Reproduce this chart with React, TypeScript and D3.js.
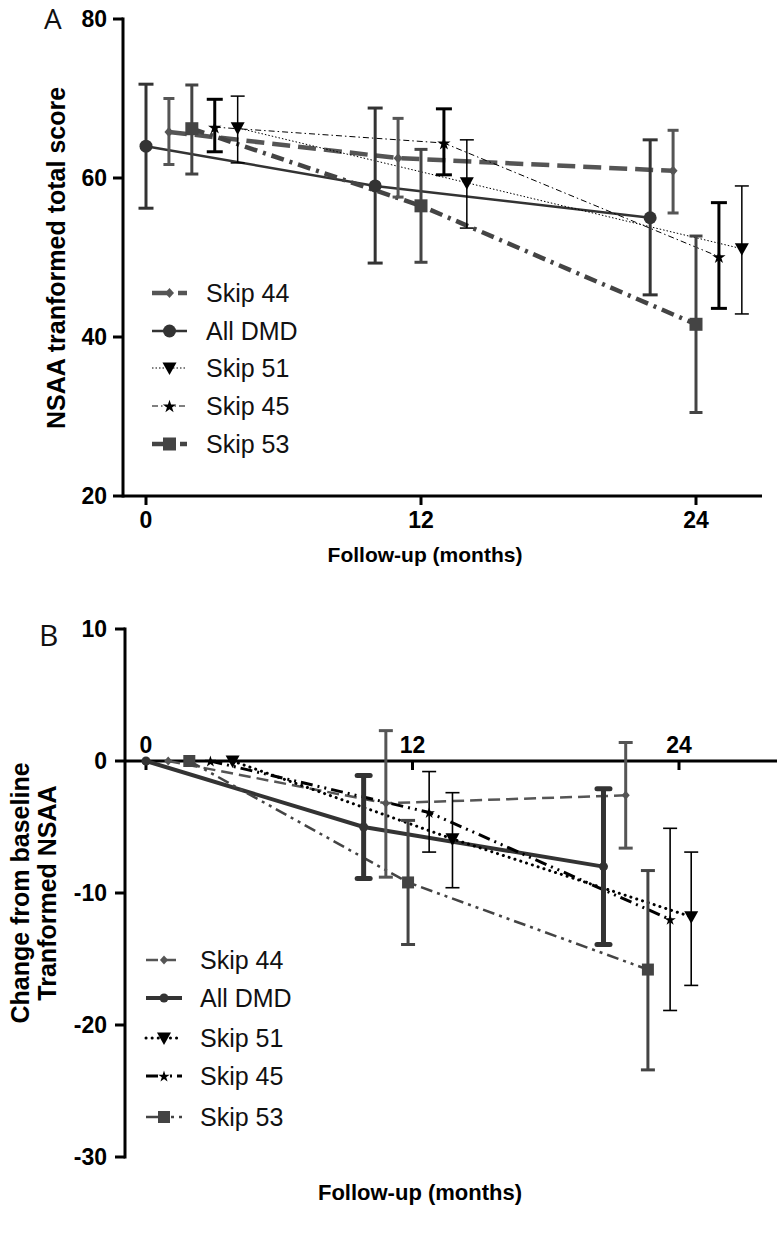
import React from "react";
import * as d3 from "d3";

// ---------- DATA ----------
const seriesNames = ["Skip 44", "All DMD", "Skip 51", "Skip 45", "Skip 53"];

// Panel A: NSAA transformed total score (months, offset per group)
const aX_skip44 = [1, 11, 23];
const aY_skip44 = [65.8, 62.5, 60.9];
const aLo_skip44 = [61.7, 57.6, 55.6];
const aHi_skip44 = [70.0, 67.5, 66.0];

const aX_all = [0, 10, 22];
const aY_all = [64.0, 59.0, 55.0];
const aLo_all = [56.2, 49.3, 45.3];
const aHi_all = [71.8, 68.8, 64.8];

const aX_skip51 = [4, 14, 26];
const aY_skip51 = [66.3, 59.4, 51.1];
const aLo_skip51 = [61.9, 53.7, 42.9];
const aHi_skip51 = [70.3, 64.8, 59.0];

const aX_skip45 = [3, 13, 25];
const aY_skip45 = [66.4, 64.4, 50.1];
const aLo_skip45 = [63.3, 60.4, 43.6];
const aHi_skip45 = [69.9, 68.7, 56.9];

const aX_skip53 = [2, 12, 24];
const aY_skip53 = [66.2, 56.5, 41.6];
const aLo_skip53 = [60.5, 49.4, 30.5];
const aHi_skip53 = [71.7, 63.6, 52.7];

// Panel B: change from baseline
const bX_skip44 = [1, 10.8, 21.6];
const bY_skip44 = [0, -3.2, -2.6];
const bLo_skip44 = [null, -8.8, -6.6];
const bHi_skip44 = [null, 2.3, 1.4];

const bX_all = [0, 9.8, 20.6];
const bY_all = [0, -5.0, -8.0];
const bLo_all = [null, -8.9, -13.9];
const bHi_all = [null, -1.1, -2.1];

const bX_skip51 = [3.9, 13.8, 24.55];
const bY_skip51 = [0, -5.9, -11.8];
const bLo_skip51 = [null, -9.6, -17.0];
const bHi_skip51 = [null, -2.4, -6.9];

const bX_skip45 = [2.9, 12.75, 23.6];
const bY_skip45 = [0, -3.9, -12.0];
const bLo_skip45 = [null, -6.9, -18.9];
const bHi_skip45 = [null, -0.8, -5.1];

const bX_skip53 = [1.95, 11.8, 22.6];
const bY_skip53 = [0, -9.2, -15.8];
const bLo_skip53 = [null, -13.9, -23.4];
const bHi_skip53 = [null, -4.5, -8.3];

const aYTicks = [20, 40, 60, 80];
const bYTicks = [-30, -20, -10, 0, 10];
const xTicks = [0, 12, 24];

// ---------- STYLES ----------
type Style = {
  color: string;
  lineW: number;
  dash: string;
  cap: string;
  errW: number;
  errCapW: number;
  errCapRound?: boolean;
  marker: string;
  msize: number;
};

const stylesA: Record<string, Style> = {
  "Skip 44": { color: "#555", lineW: 4.5, dash: "18,8", cap: "butt", errW: 3, errCapW: 11, marker: "diamond", msize: 5 },
  "All DMD": { color: "#333", lineW: 2.5, dash: "", cap: "butt", errW: 3, errCapW: 15, marker: "circle", msize: 6.5 },
  "Skip 51": { color: "#000", lineW: 1, dash: "1.5,2", cap: "butt", errW: 1.5, errCapW: 14, marker: "triangle", msize: 7 },
  "Skip 45": { color: "#000", lineW: 1, dash: "6,3,1.5,3", cap: "butt", errW: 3, errCapW: 16, marker: "star", msize: 7 },
  "Skip 53": { color: "#444", lineW: 4.5, dash: "13,6,3,6", cap: "butt", errW: 3, errCapW: 13, marker: "square", msize: 6.5 },
};

const stylesB: Record<string, Style> = {
  "Skip 44": { color: "#555", lineW: 2.5, dash: "12,6", cap: "butt", errW: 3, errCapW: 14, marker: "diamond", msize: 4.5 },
  "All DMD": { color: "#333", lineW: 4, dash: "", cap: "butt", errW: 5, errCapW: 13, errCapRound: true, marker: "circle", msize: 4.5 },
  "Skip 51": { color: "#000", lineW: 3, dash: "0.1,6", cap: "round", errW: 1.6, errCapW: 14, marker: "triangle", msize: 7 },
  "Skip 45": { color: "#000", lineW: 3, dash: "12,5,2,5,2,5", cap: "butt", errW: 1.6, errCapW: 14, marker: "star", msize: 6 },
  "Skip 53": { color: "#444", lineW: 2.5, dash: "12,5,3,5,3,5", cap: "butt", errW: 3, errCapW: 14, marker: "square", msize: 6 },
};

type Series = { name: string; x: number[]; y: number[]; lo: (number | null)[]; hi: (number | null)[] };

const seriesA: Series[] = [
  { name: "Skip 44", x: aX_skip44, y: aY_skip44, lo: aLo_skip44, hi: aHi_skip44 },
  { name: "All DMD", x: aX_all, y: aY_all, lo: aLo_all, hi: aHi_all },
  { name: "Skip 51", x: aX_skip51, y: aY_skip51, lo: aLo_skip51, hi: aHi_skip51 },
  { name: "Skip 45", x: aX_skip45, y: aY_skip45, lo: aLo_skip45, hi: aHi_skip45 },
  { name: "Skip 53", x: aX_skip53, y: aY_skip53, lo: aLo_skip53, hi: aHi_skip53 },
];

const seriesB: Series[] = [
  { name: "Skip 44", x: bX_skip44, y: bY_skip44, lo: bLo_skip44, hi: bHi_skip44 },
  { name: "All DMD", x: bX_all, y: bY_all, lo: bLo_all, hi: bHi_all },
  { name: "Skip 51", x: bX_skip51, y: bY_skip51, lo: bLo_skip51, hi: bHi_skip51 },
  { name: "Skip 45", x: bX_skip45, y: bY_skip45, lo: bLo_skip45, hi: bHi_skip45 },
  { name: "Skip 53", x: bX_skip53, y: bY_skip53, lo: bLo_skip53, hi: bHi_skip53 },
];

const FONT = "'Liberation Sans', Arial, Helvetica, sans-serif";

function Marker({ kind, cx, cy, s, color }: { kind: string; cx: number; cy: number; s: number; color: string }) {
  if (kind === "circle") return <circle cx={cx} cy={cy} r={s} fill={color} />;
  if (kind === "square") return <rect x={cx - s} y={cy - s} width={2 * s} height={2 * s} fill={color} />;
  if (kind === "diamond") {
    const p = `M${cx},${cy - s}L${cx + s * 0.9},${cy}L${cx},${cy + s}L${cx - s * 0.9},${cy}Z`;
    return <path d={p} fill={color} />;
  }
  if (kind === "triangle") {
    const p = `M${cx - s},${cy - s * 0.8}L${cx + s},${cy - s * 0.8}L${cx},${cy + s}Z`;
    return <path d={p} fill={color} />;
  }
  if (kind === "star") {
    const size = (s * s) / 0.8908130915292852;
    const d = d3.symbol().type(d3.symbolStar).size(size)() || "";
    return <path d={d} transform={`translate(${cx},${cy + s * 0.1})`} fill={color} />;
  }
  return null;
}

function Panel({
  series,
  styles,
  x,
  y,
}: {
  series: Series[];
  styles: Record<string, Style>;
  x: d3.ScaleLinear<number, number>;
  y: d3.ScaleLinear<number, number>;
}) {
  const line = d3
    .line<[number, number]>()
    .x((d) => x(d[0]))
    .y((d) => y(d[1]));
  return (
    <g>
      {series.map((s) => {
        const st = styles[s.name];
        const pts = s.x.map((xv, i) => [xv, s.y[i]] as [number, number]);
        return (
          <path
            key={"l" + s.name}
            d={line(pts) || ""}
            fill="none"
            stroke={st.color}
            strokeWidth={st.lineW}
            strokeDasharray={st.dash || undefined}
            strokeLinecap={st.cap as any}
          />
        );
      })}
      {series.map((s) => {
        const st = styles[s.name];
        return (
          <g key={"e" + s.name}>
            {s.x.map((xv, i) => {
              const lo = s.lo[i];
              const hi = s.hi[i];
              if (lo == null || hi == null) return null;
              const cx = x(xv);
              const hw = st.errCapW / 2;
              return (
                <g key={i} stroke={st.color} strokeWidth={st.errW}>
                  <line x1={cx} x2={cx} y1={y(hi)} y2={y(lo)} />
                  <line
                    x1={cx - hw}
                    x2={cx + hw}
                    y1={y(hi)}
                    y2={y(hi)}
                    strokeLinecap={st.errCapRound ? "round" : "butt"}
                  />
                  <line
                    x1={cx - hw}
                    x2={cx + hw}
                    y1={y(lo)}
                    y2={y(lo)}
                    strokeLinecap={st.errCapRound ? "round" : "butt"}
                  />
                </g>
              );
            })}
          </g>
        );
      })}
      {series.map((s) => {
        const st = styles[s.name];
        return (
          <g key={"m" + s.name}>
            {s.x.map((xv, i) => (
              <Marker key={i} kind={st.marker} cx={x(xv)} cy={y(s.y[i])} s={st.msize} color={st.color} />
            ))}
          </g>
        );
      })}
    </g>
  );
}

function Legend({
  styles,
  x1,
  x2,
  tx,
  rows,
}: {
  styles: Record<string, Style>;
  x1: number;
  x2: number;
  tx: number;
  rows: number[];
}) {
  return (
    <g>
      {seriesNames.map((n, i) => {
        const st = styles[n];
        const yy = rows[i];
        return (
          <g key={n}>
            <line
              x1={x1}
              x2={x2}
              y1={yy}
              y2={yy}
              stroke={st.color}
              strokeWidth={st.lineW}
              strokeDasharray={st.dash || undefined}
              strokeLinecap={st.cap as any}
            />
            <Marker kind={st.marker} cx={(x1 + x2) / 2} cy={yy} s={st.msize} color={st.color} />
            <text x={tx} y={yy} dy="0.36em" fontSize={25} fontFamily={FONT} fill="#111">
              {n}
            </text>
          </g>
        );
      })}
    </g>
  );
}

export default function App() {
  // Panel A scales
  const xA = d3.scaleLinear().domain([0, 24]).range([146, 696]);
  const yA = d3.scaleLinear().domain([20, 80]).range([496, 19]);
  // Panel B scales
  const xB = d3.scaleLinear().domain([0, 24]).range([146, 679]);
  const yB = d3.scaleLinear().domain([-30, 10]).range([1157, 629]);

  const axisA = { left: 123, right: 762 };
  const axisB = { left: 125, right: 777 };

  return (
    <svg
      width={780}
      height={1235}
      style={{ position: "absolute", left: 0, top: 0, background: "#fff" }}
      fontFamily={FONT}
    >
      <rect width={780} height={1235} fill="#fff" />
      {/* ---------- Panel A ---------- */}
      <text x={44} y={29} fontSize={28} fontFamily="'Open Sans', 'Liberation Sans', sans-serif" fill="#111">
        A
      </text>
      <g stroke="#000" strokeWidth={3}>
        <line x1={axisA.left} x2={axisA.left} y1={yA(80) - 1.5} y2={yA(20) + 1.5} />
        <line x1={axisA.left} x2={axisA.right} y1={yA(20)} y2={yA(20)} />
        {aYTicks.map((t) => (
          <line key={t} x1={axisA.left - 10} x2={axisA.left} y1={yA(t)} y2={yA(t)} />
        ))}
        {xTicks.map((t) => (
          <line key={t} x1={xA(t)} x2={xA(t)} y1={yA(20)} y2={yA(20) + 9} />
        ))}
      </g>
      {aYTicks.map((t) => (
        <text key={t} x={107} y={yA(t)} dy="0.36em" textAnchor="end" fontSize={23} fontWeight="bold">
          {t}
        </text>
      ))}
      {xTicks.map((t) => (
        <text key={t} x={xA(t)} y={520} dy="0.36em" textAnchor="middle" fontSize={23} fontWeight="bold">
          {t}
        </text>
      ))}
      <text x={425} y={554} dy="0.36em" textAnchor="middle" fontSize={21} fontWeight="bold">
        Follow-up (months)
      </text>
      <text
        transform={`translate(56,258) rotate(-90)`}
        textAnchor="middle"
        dy="0.36em"
        fontSize={25}
        fontWeight="bold"
      >
        NSAA tranformed total score
      </text>
      <Panel series={seriesA} styles={stylesA} x={xA} y={yA} />
      <Legend styles={stylesA} x1={152} x2={187} tx={206} rows={[293, 331, 368, 406, 444]} />

      {/* ---------- Panel B ---------- */}
      <text x={39} y={646} fontSize={30} fontFamily="'Open Sans', 'Liberation Sans', sans-serif" fill="#111">
        B
      </text>
      <g stroke="#000" strokeWidth={3}>
        <line x1={axisB.left} x2={axisB.left} y1={yB(10) - 1.5} y2={yB(-30) + 1.5} />
        <line x1={axisB.left} x2={axisB.right} y1={yB(0)} y2={yB(0)} />
        {bYTicks.map((t) => (
          <line key={t} x1={axisB.left - 10} x2={axisB.left} y1={yB(t)} y2={yB(t)} />
        ))}
        {xTicks.map((t) => (
          <line key={t} x1={xB(t)} x2={xB(t)} y1={yB(0)} y2={yB(0) + 9} />
        ))}
      </g>
      {bYTicks.map((t) => (
        <text key={t} x={107} y={yB(t)} dy="0.36em" textAnchor="end" fontSize={23} fontWeight="bold">
          {t}
        </text>
      ))}
      {xTicks.map((t) => (
        <text key={t} x={xB(t)} y={745} dy="0.36em" textAnchor="middle" fontSize={23} fontWeight="bold">
          {t}
        </text>
      ))}
      <text x={420} y={1192} dy="0.36em" textAnchor="middle" fontSize={22} fontWeight="bold">
        Follow-up (months)
      </text>
      <text transform={`translate(20,893) rotate(-90)`} textAnchor="middle" dy="0.36em" fontSize={25} fontWeight="bold">
        Change from baseline
      </text>
      <text transform={`translate(47,893) rotate(-90)`} textAnchor="middle" dy="0.36em" fontSize={25} fontWeight="bold">
        Tranformed NSAA
      </text>
      <Panel series={seriesB} styles={stylesB} x={xB} y={yB} />
      <Legend styles={stylesB} x1={146} x2={182} tx={200} rows={[960, 998, 1038, 1076, 1117]} />
    </svg>
  );
}
